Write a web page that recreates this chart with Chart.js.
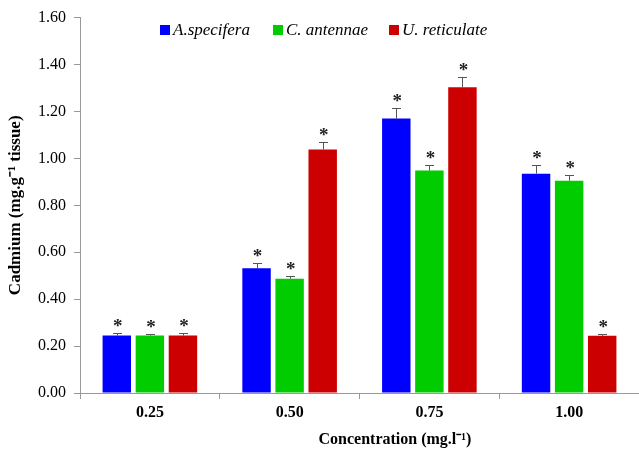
<!DOCTYPE html>
<html><head><meta charset="utf-8">
<script src="https://cdn.jsdelivr.net/npm/chart.js@4/dist/chart.umd.min.js"></script>
<style>html,body{margin:0;padding:0;background:#fff}#wrap{width:639px;height:452px}</style>
</head><body><div id="wrap"><canvas id="c" width="639" height="452"></canvas></div>
<script>
const categories = ['0.25', '0.50', '0.75', '1.00'];
const seriesNames = ['A.specifera', 'C. antennae', 'U. reticulate'];
const aSpecifera = [0.245, 0.532, 1.170, 0.935];
const cAntennae = [0.245, 0.487, 0.948, 0.905];
const uReticulate = [0.245, 1.038, 1.303, 0.244];
const aSpeciferaErr = [0.010, 0.020, 0.045, 0.038];
const cAntennaeErr = [0.006, 0.011, 0.024, 0.024];
const uReticulateErr = [0.010, 0.032, 0.042, 0.009];
const yTicks = [0, 0.2, 0.4, 0.6, 0.8, 1.0, 1.2, 1.4, 1.6];
const colors = ['#0000ff', '#00cc00', '#cc0000'];
const xTitle = 'Concentration (mg.l\u207B\u00B9)';

const serif = "'Liberation Serif','Times New Roman',serif";

const extras = {
  id: 'extras',
  afterDatasetsDraw(chart) {
    const ctx = chart.ctx;
    const y = chart.scales.y;
    chart.data.datasets.forEach((ds, di) => {
      const meta = chart.getDatasetMeta(di);
      meta.data.forEach((bar, i) => {
        const top = Math.round(y.getPixelForValue(ds.data[i] + ds.err[i]));
        ctx.save();
        ctx.strokeStyle = '#555';
        ctx.lineWidth = 1;
        ctx.beginPath();
        ctx.moveTo(Math.round(bar.x) + 0.5, bar.y);
        ctx.lineTo(Math.round(bar.x) + 0.5, top);
        ctx.moveTo(Math.round(bar.x) - 4, top + 0.5);
        ctx.lineTo(Math.round(bar.x) + 5, top + 0.5);
        ctx.stroke();
        ctx.fillStyle = '#222';
        ctx.font = "bold 19px " + serif;
        ctx.textAlign = 'center';
        ctx.textBaseline = 'alphabetic';
        ctx.fillText('*', bar.x + 1, top - 1);
        ctx.restore();
      });
    });
    // legend
    ctx.save();
    ctx.font = "italic 17px " + serif;
    ctx.textBaseline = 'middle';
    const ly = 30;
    const xs = [160, 273, 389];
    seriesNames.forEach((n, i) => {
      ctx.fillStyle = colors[i];
      ctx.fillRect(xs[i], ly - 5, 10, 10);
      ctx.fillStyle = '#000';
      ctx.textAlign = 'left';
      ctx.fillText(n, xs[i] + 13, ly + 1);
    });
    // x axis title
    ctx.font = "bold 16px " + serif;
    ctx.textAlign = 'center';
    ctx.textBaseline = 'middle';
    ctx.fillStyle = '#000';
    ctx.fillText(xTitle, 395, 440);
    ctx.restore();
  }
};

new Chart(document.getElementById('c'), {
  type: 'bar',
  data: {
    labels: categories,
    datasets: [
      { label: seriesNames[0], data: aSpecifera, err: aSpeciferaErr, backgroundColor: colors[0] },
      { label: seriesNames[1], data: cAntennae, err: cAntennaeErr, backgroundColor: colors[1] },
      { label: seriesNames[2], data: uReticulate, err: uReticulateErr, backgroundColor: colors[2] }
    ]
  },
  options: {
    responsive: false,
    animation: false,
    devicePixelRatio: 1,
    layout: { padding: { top: 11, right: 0, left: 0, bottom: 0 } },
    datasets: { bar: { categoryPercentage: 0.71, barPercentage: 0.86 } },
    plugins: { legend: { display: false }, tooltip: { enabled: false } },
    scales: {
      x: {
        grid: { display: true, drawOnChartArea: false, offset: true, tickLength: 6, color: '#999' },
        border: { color: '#999' },
        ticks: { color: '#000', font: { family: serif, size: 16, weight: 'bold' }, padding: 4 },
        title: { display: false, text: xTitle },
        afterFit(s) { s.height = 59; }
      },
      y: {
        min: 0, max: 1.6,
        afterBuildTicks(s) { s.ticks = yTicks.map(v => ({ value: v })); },
        grid: { display: true, drawOnChartArea: false, tickLength: 6, color: '#999' },
        border: { color: '#999' },
        ticks: { color: '#000', font: { family: serif, size: 16 }, padding: 8, callback: v => Number(v).toFixed(2) },
        title: { display: true, text: 'Cadmium (mg.g\u207B\u00B9 tissue)', color: '#000', font: { family: serif, size: 17, weight: 'bold' }, padding: { top: 5, bottom: 0 } },
        afterFit(s) { s.width = 80; }
      }
    }
  },
  plugins: [extras]
});
</script></body></html>
